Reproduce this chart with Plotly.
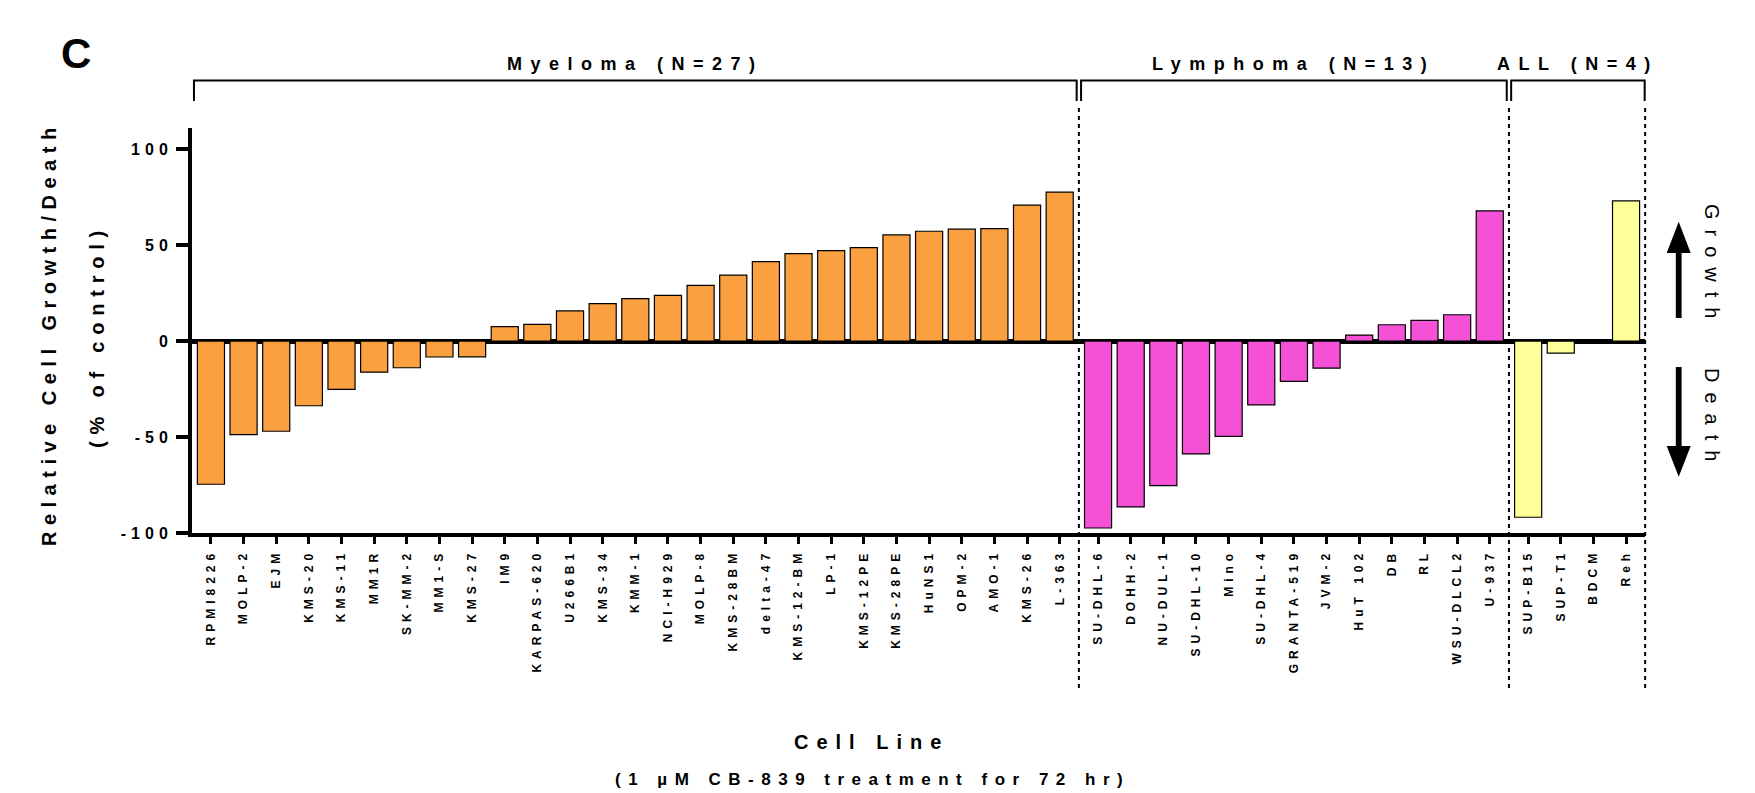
import numpy as np
import plotly.graph_objects as go

# ---------------- data ----------------
myeloma_lines = ["RPMI8226", "MOLP-2", "EJM", "KMS-20", "KMS-11", "MM1R", "SK-MM-2", "MM1-S",
                 "KMS-27", "IM9", "KARPAS-620", "U266B1", "KMS-34", "KMM-1", "NCI-H929",
                 "MOLP-8", "KMS-28BM", "delta-47", "KMS-12-BM", "LP-1", "KMS-12PE", "KMS-28PE",
                 "HuNS1", "OPM-2", "AMO-1", "KMS-26", "L-363"]
myeloma_vals = [-74.6, -48.7, -47.0, -33.7, -25.2, -16.2, -13.9, -8.3, -8.2, 7.5, 8.7, 15.7,
                19.5, 22.1, 23.8, 29.0, 34.3, 41.4, 45.6, 47.1, 48.7, 55.3, 57.2, 58.3, 58.6,
                70.8, 77.6]

lymphoma_lines = ["SU-DHL-6", "DOHH-2", "NU-DUL-1", "SU-DHL-10", "Mino", "SU-DHL-4",
                  "GRANTA-519", "JVM-2", "HuT 102", "DB", "RL", "WSU-DLCL2", "U-937"]
lymphoma_vals = [-97.4, -86.4, -75.3, -58.8, -49.7, -33.2, -21.0, -14.1, 3.1, 8.5, 10.8, 13.7, 67.8]

all_lines = ["SUP-B15", "SUP-T1", "BDCM", "Reh"]
all_vals = [-91.8, -6.3, 0.0, 73.0]

group_names = ["Myeloma (N=27)", "Lymphoma (N=13)", "ALL (N=4)"]
group_colors = ["#FBA040", "#F551D6", "#FFFF99"]

y_ticks = [-100, -50, 0, 50, 100]
y_title_1 = "Relative Cell Growth/Death"
y_title_2 = "(% of control)"
x_title_1 = "Cell Line"
x_title_2 = "(1 µM CB-839 treatment for 72 hr)"

# ---------------- layout constants ----------------
W, H = 1755, 793
ML, MR, MT, MB = 192, 110, 128, 260
PW, PH = W - ML - MR, H - MT - MB
GAP = 0.175
XR = [-0.58, 43.93]
YR = [-100, 111]
FONT = "Liberation Sans, Arial, sans-serif"


def sp(text, ls):
    return f'<span style="letter-spacing:{ls}px">{text}</span>'


def xp(px):
    return (px - ML) / PW


def yp(py):
    return (H - MB - py) / PH


def dx(pos):
    return (pos - XR[0]) / (XR[1] - XR[0])


groups = [(myeloma_lines, myeloma_vals), (lymphoma_lines, lymphoma_vals), (all_lines, all_vals)]

fig = go.Figure()
tickvals, ticktext, spans = [], [], []
start = 0
for gi, (names, vals) in enumerate(groups):
    pos = np.arange(len(names)) + start + gi * GAP
    start += len(names)
    spans.append((pos[0], pos[-1]))
    tickvals.extend(pos.tolist())
    ticktext.extend([sp(n, 5) for n in names])
    fig.add_trace(go.Bar(
        x=pos, y=vals, width=0.83,
        marker=dict(color=group_colors[gi], line=dict(color="black", width=1.2)),
        name=group_names[gi], showlegend=False,
    ))

shapes = []
annotations = []

# group brackets, labels and dotted separators
ybt, ybb = yp(80.6), yp(101)
for gi, (a, b) in enumerate(spans):
    x0 = dx(a - 0.52)
    x1 = dx(b + 0.52) if gi < 2 else dx(XR[1] - 0.01)
    shapes.append(dict(type="path", xref="paper", yref="paper",
                       path=f"M {x0},{ybb} L {x0},{ybt} L {x1},{ybt} L {x1},{ybb}",
                       line=dict(color="black", width=2)))
    annotations.append(dict(text=sp(group_names[gi], 8.5), xref="paper", yref="paper",
                            x=(x0 + x1) / 2, y=yp(64), xanchor="center", yanchor="middle",
                            showarrow=False,
                            font=dict(size=18, family=FONT, color="black", weight="bold")))

sep_pos = [(spans[0][1] + spans[1][0]) / 2, (spans[1][1] + spans[2][0]) / 2, spans[2][1] + 0.585]
for s in sep_pos:
    shapes.append(dict(type="line", xref="paper", yref="paper", x0=dx(s), x1=dx(s),
                       y0=yp(108), y1=yp(688),
                       line=dict(color="black", width=2, dash="4px,4px")))

# growth / death arrows
cx, hw, sw = 1678.7, 12, 2.9
shapes.append(dict(type="path", xref="paper", yref="paper",
                   path=f"M {xp(cx)},{yp(221.7)} L {xp(cx - hw)},{yp(253)} L {xp(cx + hw)},{yp(253)} Z",
                   fillcolor="black", line=dict(width=0)))
shapes.append(dict(type="rect", xref="paper", yref="paper",
                   x0=xp(cx - sw), x1=xp(cx + sw), y0=yp(318), y1=yp(252),
                   fillcolor="black", line=dict(width=0)))
shapes.append(dict(type="path", xref="paper", yref="paper",
                   path=f"M {xp(cx)},{yp(476.7)} L {xp(cx - hw)},{yp(446)} L {xp(cx + hw)},{yp(446)} Z",
                   fillcolor="black", line=dict(width=0)))
shapes.append(dict(type="rect", xref="paper", yref="paper",
                   x0=xp(cx - sw), x1=xp(cx + sw), y0=yp(447), y1=yp(367),
                   fillcolor="black", line=dict(width=0)))

annotations += [
    dict(text="C", xref="paper", yref="paper", x=xp(76), y=yp(53), showarrow=False,
         xanchor="center", yanchor="middle",
         font=dict(size=42, family=FONT, color="black", weight="bold")),
    dict(text=sp(y_title_1, 6.5), xref="paper", yref="paper", x=xp(49), y=yp(334),
         textangle=-90, showarrow=False, xanchor="center", yanchor="middle",
         font=dict(size=20, family=FONT, color="black", weight="bold")),
    dict(text=sp(y_title_2, 6.8), xref="paper", yref="paper", x=xp(97), y=yp(336),
         textangle=-90, showarrow=False, xanchor="center", yanchor="middle",
         font=dict(size=20, family=FONT, color="black", weight="bold")),
    dict(text=sp(x_title_1, 8), xref="paper", yref="paper", x=xp(871), y=yp(742),
         showarrow=False, xanchor="center", yanchor="middle",
         font=dict(size=20, family=FONT, color="black", weight="bold")),
    dict(text=sp(x_title_2, 7.5), xref="paper", yref="paper", x=xp(872), y=yp(779),
         showarrow=False, xanchor="center", yanchor="middle",
         font=dict(size=17, family=FONT, color="black", weight="bold")),
    dict(text=sp("Growth", 10), xref="paper", yref="paper", x=xp(1712), y=yp(266),
         textangle=90, showarrow=False, xanchor="center", yanchor="middle",
         font=dict(size=20, family=FONT, color="black")),
    dict(text=sp("Death", 10), xref="paper", yref="paper", x=xp(1712), y=yp(419),
         textangle=90, showarrow=False, xanchor="center", yanchor="middle",
         font=dict(size=20, family=FONT, color="black")),
]

fig.update_layout(
    width=W, height=H,
    margin=dict(l=ML, r=MR, t=MT, b=MB),
    plot_bgcolor="white", paper_bgcolor="white",
    showlegend=False,
    shapes=shapes, annotations=annotations,
    xaxis=dict(range=XR, tickmode="array", tickvals=tickvals, ticktext=ticktext,
               tickangle=-90, tickfont=dict(size=12, family=FONT, color="black", weight="bold"),
               showline=True, linecolor="black", linewidth=4,
               ticks="outside", ticklen=7, tickwidth=3, tickcolor="black",
               showgrid=False, zeroline=False),
    yaxis=dict(range=YR, tickmode="array", tickvals=y_ticks,
               ticktext=[sp(str(v), 5) for v in y_ticks],
               tickfont=dict(size=16, family=FONT, color="black", weight="bold"),
               showline=True, linecolor="black", linewidth=4,
               ticks="outside", ticklen=12, tickwidth=4, tickcolor="black",
               showgrid=False, zeroline=True, zerolinecolor="black", zerolinewidth=5),
)

fig.write_html("out.html")
